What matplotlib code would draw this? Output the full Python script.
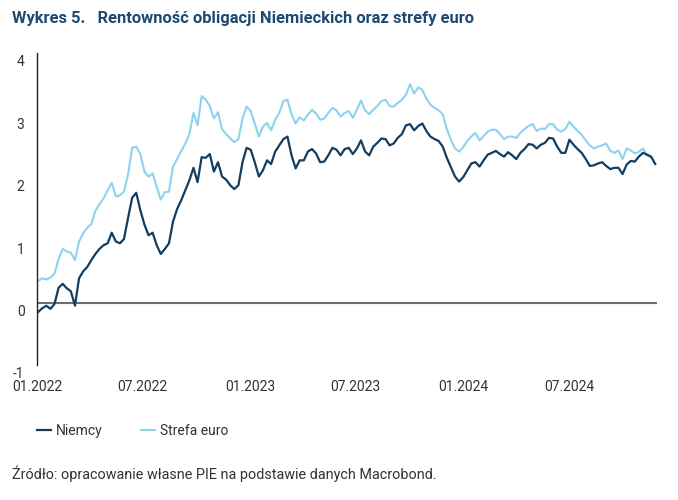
import numpy as np
import pandas as pd
import matplotlib
matplotlib.use('Agg')
import matplotlib.pyplot as plt
import matplotlib.dates as mdates
from matplotlib.transforms import ScaledTranslation

plt.rcParams['font.family'] = ['Roboto', 'DejaVu Sans']

dates = pd.date_range('2022-01-03', periods=152, freq='7D')

niemcy = [
    -0.15, -0.09, -0.05, -0.10, -0.02, 0.24, 0.30, 0.23, 0.18, -0.05,
    0.39, 0.50, 0.57, 0.68, 0.78, 0.86, 0.92, 0.95, 1.12, 0.98,
    0.95, 1.02, 1.36, 1.68, 1.76, 1.48, 1.25, 1.08, 1.12, 0.92,
    0.78, 0.86, 0.95, 1.30, 1.50, 1.64, 1.80, 1.96, 2.16, 1.93,
    2.33, 2.32, 2.38, 2.10, 2.25, 2.02, 1.97, 1.88, 1.82, 1.88,
    2.25, 2.48, 2.45, 2.25, 2.02, 2.12, 2.28, 2.22, 2.42, 2.52,
    2.62, 2.66, 2.36, 2.15, 2.28, 2.28, 2.42, 2.46, 2.39, 2.25,
    2.26, 2.36, 2.48, 2.45, 2.36, 2.46, 2.48, 2.38, 2.47, 2.60,
    2.42, 2.36, 2.50, 2.56, 2.63, 2.62, 2.52, 2.55, 2.64, 2.70,
    2.84, 2.86, 2.76, 2.83, 2.87, 2.75, 2.66, 2.62, 2.59, 2.50,
    2.32, 2.17, 2.02, 1.94, 2.01, 2.12, 2.23, 2.25, 2.18, 2.28,
    2.37, 2.40, 2.43, 2.38, 2.34, 2.41, 2.36, 2.30, 2.40, 2.46,
    2.54, 2.53, 2.47, 2.53, 2.56, 2.64, 2.63, 2.50, 2.40, 2.40,
    2.61, 2.53, 2.46, 2.40, 2.30, 2.19, 2.20, 2.23, 2.25, 2.19,
    2.14, 2.16, 2.16, 2.06, 2.21, 2.27, 2.26, 2.34, 2.40, 2.37,
    2.34, 2.22,
]

strefa_euro = [
    0.35, 0.39, 0.37, 0.40, 0.47, 0.70, 0.86, 0.82, 0.80, 0.68,
    0.98, 1.11, 1.20, 1.26, 1.47, 1.58, 1.67, 1.80, 1.92, 1.70,
    1.72, 1.78, 2.06, 2.48, 2.50, 2.38, 2.10, 2.02, 2.07, 1.86,
    1.65, 1.77, 1.78, 2.18, 2.30, 2.43, 2.55, 2.70, 3.04, 2.84,
    3.31, 3.25, 3.15, 2.95, 3.05, 2.78, 2.70, 2.63, 2.57, 2.62,
    2.95, 3.14, 3.07, 2.87, 2.66, 2.82, 2.88, 2.76, 2.93, 3.04,
    3.23, 3.25, 3.02, 2.87, 2.97, 2.92, 3.01, 3.09, 3.03, 2.93,
    2.95, 3.04, 3.12, 3.08, 2.98, 3.04, 3.07, 2.96, 3.09, 3.24,
    3.08, 3.02, 3.09, 3.15, 3.23, 3.25, 3.15, 3.14, 3.20, 3.25,
    3.33, 3.50, 3.35, 3.45, 3.41, 3.27, 3.17, 3.12, 3.08, 3.02,
    2.78, 2.61, 2.47, 2.42, 2.49, 2.59, 2.66, 2.72, 2.60, 2.67,
    2.74, 2.77, 2.77, 2.70, 2.62, 2.66, 2.66, 2.64, 2.72, 2.78,
    2.83, 2.86, 2.75, 2.79, 2.78, 2.86, 2.86, 2.77, 2.74, 2.78,
    2.90, 2.82, 2.75, 2.69, 2.60, 2.52, 2.47, 2.50, 2.52, 2.55,
    2.43, 2.40, 2.44, 2.30, 2.47, 2.44, 2.39, 2.42, 2.47, 2.36,
    2.32,
]

tick_dates = ['2022-01-01', '2022-07-01', '2023-01-01', '2023-07-01', '2024-01-01', '2024-07-01']
tick_labels = ['01.2022', '07.2022', '01.2023', '07.2023', '01.2024', '07.2024']
y_ticks = [-1, 0, 1, 2, 3, 4]

dark = '#123d60'
light = '#8dd2ee'
navy = '#1d4a73'

fig = plt.figure(figsize=(6.78, 5.0), dpi=100)
ax = fig.add_axes([0.0546, 0.27, 0.9144, 0.624])

ax.axhline(0, color='#6e6e6e', lw=1.5, zorder=1)
ax.plot(dates[:len(strefa_euro)], strefa_euro, color=light, lw=1.5, label='Strefa euro', zorder=2)
ax.plot(dates[:len(niemcy)], niemcy, color=dark, lw=1.6, label='Niemcy', zorder=3)

ax.set_xlim(pd.Timestamp('2022-01-01'), pd.Timestamp('2024-11-28'))
ax.set_ylim(-1, 4)
ax.set_yticks(y_ticks)
ax.set_yticklabels([str(v) for v in y_ticks])
ax.set_xticks([pd.Timestamp(d) for d in tick_dates])
ax.set_xticklabels(tick_labels)

for s in ['top', 'right', 'bottom']:
    ax.spines[s].set_visible(False)
ax.spines['left'].set_linewidth(1.0)
ax.spines['left'].set_color('#222222')

ax.tick_params(axis='x', length=0, pad=11, labelsize=10, labelcolor='#333333')
ax.tick_params(axis='y', length=0, pad=9, labelsize=10, labelcolor='#333333')
for lab in ax.get_yticklabels():
    lab.set_transform(lab.get_transform() + ScaledTranslation(0, -8 / 100, fig.dpi_scale_trans))

fig.text(0.018, 0.962, 'Wykres 5.   Rentowność obligacji Niemieckich oraz strefy euro',
         fontsize=11.9, fontweight='bold', color=navy, va='center', ha='left')

h, l = ax.get_legend_handles_labels()
leg = fig.legend(h[::-1], l[::-1], loc='center left', bbox_to_anchor=(0.055, 0.138),
                 ncol=2, frameon=False, fontsize=10, handlelength=1.0, handletextpad=0.35,
                 columnspacing=2.75, borderpad=0, borderaxespad=0)
for t in leg.get_texts():
    t.set_color('#333333')

fig.text(0.018, 0.052, 'Źródło: opracowanie własne PIE na podstawie danych Macrobond.',
         fontsize=10.4, color='#333333', va='center', ha='left')

fig.savefig('out.png', dpi=100, facecolor='white')
